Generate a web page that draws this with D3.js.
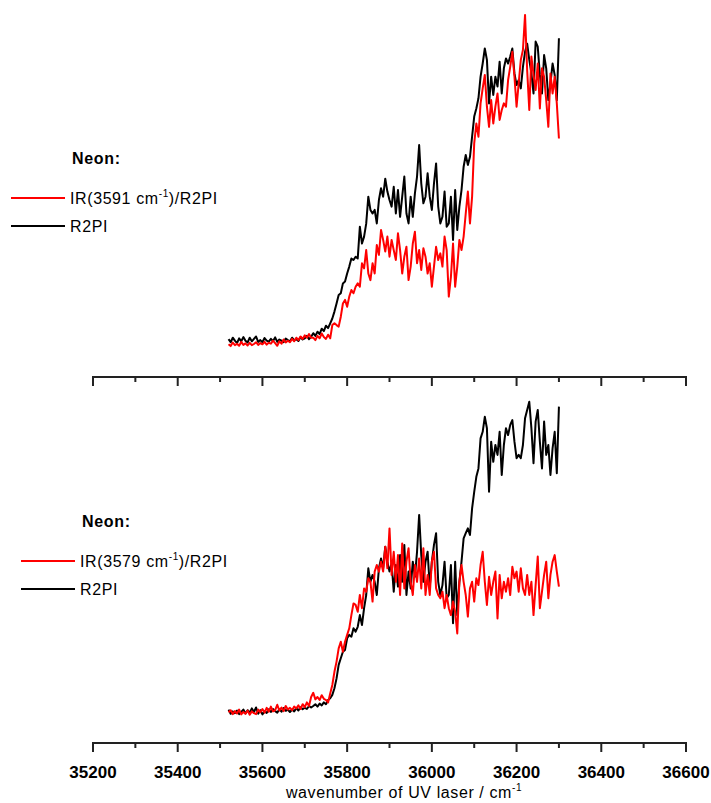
<!DOCTYPE html>
<html>
<head>
<meta charset="utf-8">
<script src="https://cdn.jsdelivr.net/npm/d3@7"></script>
<style>
  body { margin: 0; background: #fff; }
  svg { font-family: Arial, "Liberation Sans", sans-serif; }
</style>
</head>
<body>
<script>
var width = 711, height = 803;

// scan grid: wavenumber of UV laser / cm-1
var wnStart = 35520, wnStep = 5;

var majorTicks = [35200, 35400, 35600, 35800, 36000, 36200, 36400, 36600];
var minorTicks = [35300, 35500, 35700, 35900, 36100, 36300, 36500];

// top panel (IR 3591 cm-1)
var topR2PI = [
  2.5, 1.5, 3.0, 2.0, 1.2, 2.8, 1.8, 3.2, 2.0, 1.4,
  3.0, 1.8, 2.6, 3.4, 1.6, 2.2, 1.5, 2.9, 2.0, 1.7,
  2.6, 1.9, 3.1, 1.6, 2.4, 2.0, 1.5, 2.7, 2.2, 1.8,
  3.0, 2.1, 2.5, 1.9, 3.2, 2.4, 2.8, 3.6, 2.5, 3.3,
  4.5, 3.6, 5.0, 4.2, 6.0, 5.2, 7.0, 6.2, 7.8, 9.4,
  11.7, 14.4, 17.2, 17.8, 21.1, 21.7, 24.4, 26.7, 29.4, 28.9,
  30.0, 29.4, 40.0, 34.4, 36.7, 41.0, 50.0, 45.6, 44.4, 45.6,
  41.1, 48.9, 52.8, 50.0, 56.0, 51.7, 48.9, 46.7, 53.3, 44.4,
  52.2, 43.3, 50.0, 56.7, 44.4, 41.1, 50.0, 43.3, 51.1, 56.7,
  67.2, 54.4, 47.8, 50.0, 57.8, 50.0, 45.6, 54.4, 61.1, 46.7,
  41.1, 43.3, 51.7, 40.0, 41.1, 50.0, 35.6, 52.2, 38.9, 46.7,
  52.2, 60.0, 63.9, 60.6, 63.3, 70.0, 76.7, 79.4, 82.8, 90.0,
  94.4, 99.4, 95.6, 81.1, 90.0, 83.9, 90.0, 86.7, 95.0, 84.4,
  92.8, 96.1, 94.4, 96.7, 99.4, 91.1, 87.2, 88.9, 86.1, 93.3,
  98.3, 101.0, 95.6, 91.1, 84.4, 101.7, 100.0, 90.6, 84.4, 97.2,
  92.8, 82.2, 87.8, 94.4, 90.6, 82.2, 102.8
];
var topIR = [
  0.8, 0.2, 1.4, 0.5, 1.0, 0.3, 1.6, 0.6, 1.1, 0.4,
  1.3, 0.5, 0.9, 1.5, 0.6, 1.2, 0.8, 1.6, 0.7, 1.3,
  1.0, 2.0, 1.2, 0.3, 1.8, 1.0, 2.4, 1.4, 2.0, 1.5,
  2.6, 1.8, 3.0, 2.2, 3.4, 2.6, 3.8, 3.0, 4.2, 3.0,
  3.0, 2.2, 3.6, 2.8, 4.4, 3.2, 2.6, 4.0, 2.8, 7.2,
  7.8, 7.2, 6.7, 10.0, 14.4, 15.6, 13.3, 16.7, 18.9, 17.8,
  20.0, 21.1, 20.0, 27.8, 26.1, 32.2, 24.4, 22.2, 27.8, 24.4,
  33.9, 30.6, 38.9, 35.6, 31.7, 36.7, 30.0, 35.6, 32.2, 28.9,
  37.8, 32.2, 24.4, 30.0, 33.3, 22.2, 26.7, 34.4, 38.3, 27.8,
  32.2, 25.6, 32.8, 30.0, 24.4, 27.8, 20.0, 26.7, 33.3, 28.9,
  31.1, 26.7, 36.7, 32.2, 16.7, 23.3, 34.4, 20.0, 26.7, 35.6,
  32.2, 36.7, 44.4, 51.7, 41.1, 50.0, 67.8, 74.4, 70.0, 81.1,
  86.1, 90.6, 80.0, 73.3, 82.2, 74.4, 80.0, 84.4, 75.6, 78.9,
  81.1, 80.0, 88.9, 93.3, 98.3, 90.0, 80.0, 87.8, 95.6, 98.9,
  110.6, 92.2, 78.9, 96.7, 90.6, 85.6, 94.4, 79.4, 92.8, 90.0,
  82.2, 73.3, 91.1, 84.4, 90.0, 81.1, 69.4
];

// bottom panel (IR 3579 cm-1)
var botR2PI = [
  1.8, 0.4, 1.2, 0.6, 1.5, 0.3, 1.0, 1.8, 0.5, 1.6,
  0.8, 2.2, 1.0, 2.5, 0.4, 1.6, 0.2, 1.2, 0.7, 1.9,
  1.0, 2.0, 1.3, 0.8, 1.9, 1.1, 2.3, 1.4, 1.8, 1.0,
  1.8, 1.2, 2.3, 1.5, 2.6, 1.9, 2.4, 2.0, 3.0, 2.5,
  3.0, 3.6, 2.8, 3.8, 3.2, 4.2, 3.6, 5.0, 5.6, 6.7,
  8.9, 12.2, 16.7, 18.9, 21.1, 21.7, 25.6, 26.7, 26.1, 28.9,
  27.8, 29.4, 33.3, 30.0, 35.6, 40.0, 48.9, 44.4, 46.7, 44.4,
  40.0, 48.9, 52.2, 48.9, 56.1, 51.1, 47.8, 50.6, 41.1, 50.0,
  42.8, 53.3, 44.4, 56.7, 40.0, 47.8, 42.2, 51.1, 46.1, 54.4,
  66.7, 53.3, 44.4, 51.1, 54.4, 42.8, 51.1, 56.7, 60.6, 44.4,
  40.0, 43.3, 51.1, 38.9, 40.0, 50.0, 30.6, 51.1, 33.3, 44.4,
  51.1, 58.9, 60.6, 62.2, 60.0, 68.9, 74.4, 79.4, 82.2, 92.2,
  94.4, 99.4, 95.6, 74.4, 91.1, 84.4, 90.0, 86.7, 94.4, 80.0,
  90.0, 95.6, 93.3, 96.7, 98.3, 91.1, 85.6, 86.7, 85.6, 90.0,
  98.9, 101.7, 104.4, 95.6, 83.9, 97.8, 101.7, 91.1, 82.2, 97.8,
  86.7, 90.0, 80.0, 88.9, 94.4, 80.6, 102.8
];
var botIR = [
  0.9, 1.6, 0.3, 1.3, 0.5, 1.8, 0.2, 1.0, 0.4, 1.5,
  0.1, 1.2, 0.6, 0.3, 1.8, 0.9, 2.0, 0.8, 2.4, 1.1,
  2.8, 1.2, 1.6, 3.4, 1.5, 2.5, 1.3, 3.0, 1.8, 2.4,
  1.6, 2.8, 2.2, 3.2, 2.0, 3.6, 2.6, 4.2, 3.0, 6.0,
  7.4, 5.2, 6.0, 5.0, 6.6, 5.4, 5.0, 4.2, 7.2, 10.0,
  14.4, 17.8, 22.2, 24.4, 21.1, 24.4, 26.7, 28.9, 33.3, 37.2,
  36.7, 34.4, 40.0, 35.6, 42.2, 41.1, 45.6, 44.4, 37.8, 47.8,
  50.0, 47.8, 51.1, 47.8, 56.1, 48.9, 62.2, 46.7, 54.4, 44.4,
  53.3, 40.0, 57.2, 42.2, 51.1, 55.6, 44.4, 40.0, 50.0, 44.4,
  52.2, 42.2, 55.6, 40.0, 46.7, 40.0, 51.1, 54.4, 42.2, 40.0,
  38.9, 41.1, 35.6, 40.0, 35.6, 33.3, 37.8, 34.4, 27.2, 44.4,
  50.0, 44.4, 40.0, 32.8, 42.2, 44.4, 37.8, 45.6, 43.3, 50.0,
  54.4, 44.4, 36.7, 46.1, 40.0, 44.4, 47.8, 32.2, 46.7, 38.9,
  44.4, 41.1, 45.6, 40.0, 49.4, 45.6, 47.8, 41.1, 48.9, 42.2,
  40.0, 46.7, 40.0, 44.4, 33.3, 43.3, 52.8, 35.6, 41.1, 46.7,
  51.1, 38.9, 46.7, 51.1, 53.3, 47.8, 42.8
];

var panels = [
  { r2pi: topR2PI, ir: topIR, y0: 346.7, y1: 16.7, axisY: 377, labels: false,
    legendX: 70, legendY: 158, irLabel: "3591" },
  { r2pi: botR2PI, ir: botIR, y0: 715, y1: 385, axisY: 743, labels: true,
    legendX: 80, legendY: 521, irLabel: "3579" }
];

var svg = d3.select("body").append("svg")
    .attr("width", width)
    .attr("height", height);

var x = d3.scaleLinear()
    .domain([35200, 36600])
    .range([93, 686]);

panels.forEach(function (p) {
    var y = d3.scaleLinear().domain([0, 110]).range([p.y0, p.y1]);

    var line = d3.line()
        .x(function (d, i) { return x(wnStart + i * wnStep); })
        .y(function (d) { return y(d); });

    // R2PI drawn first, IR/R2PI on top
    svg.append("path")
        .datum(p.r2pi)
        .attr("fill", "none")
        .attr("stroke", "#000")
        .attr("stroke-width", 2)
        .attr("stroke-linejoin", "round")
        .attr("d", line);

    svg.append("path")
        .datum(p.ir)
        .attr("fill", "none")
        .attr("stroke", "#ff0000")
        .attr("stroke-width", 2)
        .attr("stroke-linejoin", "round")
        .attr("d", line);

    // x axis with major + minor ticks
    var axis = svg.append("g")
        .attr("transform", "translate(0," + p.axisY + ")");

    axis.append("line")
        .attr("x1", x(35200) - 1).attr("x2", x(36600) + 1)
        .attr("stroke", "#222").attr("stroke-width", 2);

    axis.selectAll(".major")
        .data(majorTicks)
        .enter().append("line")
        .attr("class", "major")
        .attr("x1", d => x(d)).attr("x2", d => x(d))
        .attr("y1", 0).attr("y2", 9)
        .attr("stroke", "#222").attr("stroke-width", 2);

    axis.selectAll(".minor")
        .data(minorTicks)
        .enter().append("line")
        .attr("class", "minor")
        .attr("x1", d => x(d)).attr("x2", d => x(d))
        .attr("y1", 0).attr("y2", 5)
        .attr("stroke", "#222").attr("stroke-width", 2);

    if (p.labels) {
        axis.selectAll(".lbl")
            .data(majorTicks)
            .enter().append("text")
            .attr("class", "lbl")
            .attr("x", d => x(d))
            .attr("y", 35)
            .attr("text-anchor", "middle")
            .style("font-size", "17px")
            .style("font-weight", "bold")
            .text(d => d);

        // title sits a bit right of the axis centre in the original
        var title = svg.append("text")
            .attr("x", 404)
            .attr("y", 798)
            .attr("text-anchor", "middle")
            .style("font-size", "16px")
            .style("letter-spacing", "0.6px");
        title.append("tspan").text("wavenumber of UV laser / cm");
        title.append("tspan").attr("dy", -7).style("font-size", "10px").text("-1");
    }

    // legend
    var lg = svg.append("g");
    lg.append("text")
        .attr("x", p.legendX + 2)
        .attr("y", p.legendY + 6)
        .style("font-size", "16px")
        .style("font-weight", "bold")
        .style("letter-spacing", "0.7px")
        .text("Neon:");

    lg.append("line")
        .attr("x1", p.legendX - 59).attr("x2", p.legendX - 5)
        .attr("y1", p.legendY + 40).attr("y2", p.legendY + 40)
        .attr("stroke", "#ff0000").attr("stroke-width", 2);
    var t1 = lg.append("text")
        .attr("x", p.legendX)
        .attr("y", p.legendY + 46)
        .style("font-size", "16px")
        .style("letter-spacing", "0.6px");
    t1.append("tspan").text("IR(" + p.irLabel + " cm");
    t1.append("tspan").attr("dy", -7).style("font-size", "10px").text("-1");
    t1.append("tspan").attr("dy", 7).text(")/R2PI");

    lg.append("line")
        .attr("x1", p.legendX - 59).attr("x2", p.legendX - 5)
        .attr("y1", p.legendY + 68).attr("y2", p.legendY + 68)
        .attr("stroke", "#000").attr("stroke-width", 2);
    lg.append("text")
        .attr("x", p.legendX)
        .attr("y", p.legendY + 74)
        .style("font-size", "16px")
        .style("letter-spacing", "0.6px")
        .text("R2PI");
});
</script>
</body>
</html>
